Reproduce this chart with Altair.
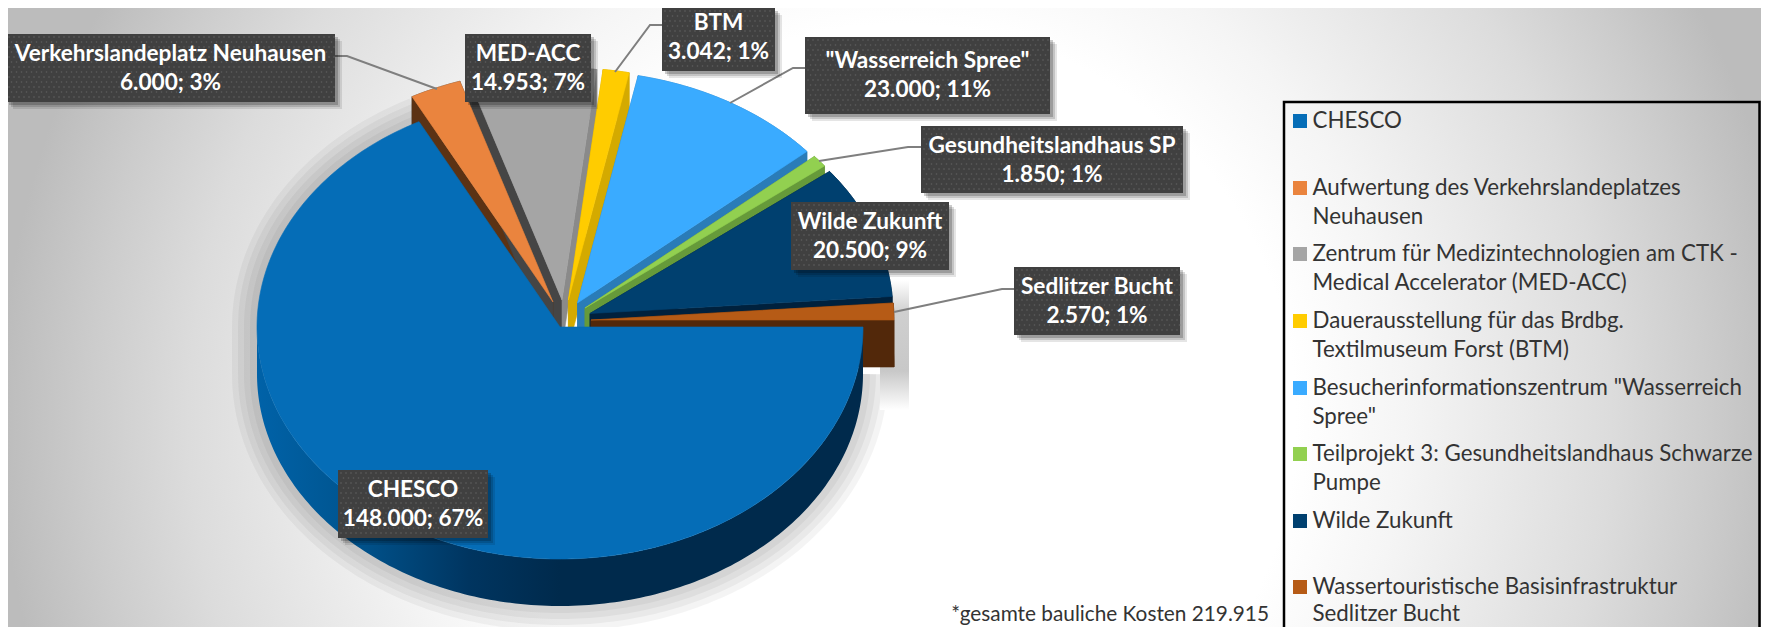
import math
import altair as alt
import pandas as pd

# ---- chart values -------------------------------------------------------
SHORT_NAMES = ["CHESCO", "Verkehrslandeplatz Neuhausen", "MED-ACC", "BTM",
               '"Wasserreich Spree"', "Gesundheitslandhaus SP", "Wilde Zukunft", "Sedlitzer Bucht"]
VALUES = [148000, 6000, 14953, 3042, 23000, 1850, 20500, 2570]
PERCENTS = [67, 3, 7, 1, 11, 1, 9, 1]
LEGEND_LINES = [
    ["CHESCO"],
    ["Aufwertung des Verkehrslandeplatzes", "Neuhausen"],
    ["Zentrum für Medizintechnologien am CTK -", "Medical Accelerator (MED-ACC)"],
    ["Dauerausstellung für das Brdbg.", "Textilmuseum Forst (BTM)"],
    ['Besucherinformationszentrum "Wasserreich', 'Spree"'],
    ["Teilprojekt 3: Gesundheitslandhaus Schwarze", "Pumpe"],
    ["Wilde Zukunft"],
    ["Wassertouristische Basisinfrastruktur", "Sedlitzer Bucht"],
]
FOOTNOTE = "*gesamte bauliche Kosten 219.915"

# ---- styles --------------------------------------------------------------
TOP = ["#056DB7", "#EA843E", "#A5A5A5", "#FFCC00", "#3AABFF", "#92D050", "#00406F", "#B65B16"]
EDGE = ["#5B3214", "#5B3214", "#454545", "#D4AA00", "#2A7CB8", "#669A3A", "#00213D", "#52280A"]
END_CUT = ["#00294A", "#454545", "#8A8A8A", "#D4AA00", "#2A7CB8", "#669A3A", "#00213D", "#52280A"]
EXPLODE_PX = [(0, 0), (-7, -25), (2, -27), (8.4, -27), (17.5, -24), (25, -19), (30, -13.5), (31, -7)]
TEXT_FONT = "Lato"

W, H = 1753, 619
CX, CY, RX, RY, DEPTH = 560, 327, 303, 232, 47


def ux(p):
    return (p - CX) / RX


def uy(p):
    return (CY - p) / RY


X = alt.X("x:Q", axis=None, scale=alt.Scale(domain=[ux(8), ux(8 + W)], nice=False, zero=False))
Y = alt.Y("y:Q", axis=None, scale=alt.Scale(domain=[uy(8 + H), uy(8)], nice=False, zero=False))
D = DEPTH / RY


def polygon(points, fill, stroke=None, sw=0.6, opacity=1.0):
    df = pd.DataFrame([{"x": p[0], "y": p[1], "i": i} for i, p in enumerate(points)])
    return alt.Chart(df).mark_line(
        interpolate="linear-closed", fill=fill, stroke=stroke or fill,
        strokeWidth=sw, opacity=opacity, clip=True,
    ).encode(x=X, y=Y, order="i:Q")


def rect(x0, y0, x1, y1, **kw):
    df = pd.DataFrame([{"x": ux(x0), "x2": ux(x1), "y": uy(y0), "y2": uy(y1)}])
    return alt.Chart(df).mark_rect(clip=True, **kw).encode(x=X, x2="x2:Q", y=Y, y2="y2:Q")


def arc_points(a0, a1, ox=0.0, oy=0.0):
    n = max(2, int(abs(a1 - a0)) + 1)
    out = []
    for k in range(n + 1):
        a = math.radians(a0 + (a1 - a0) * k / n)
        out.append((ox + math.cos(a), oy - math.sin(a)))
    return out


# cumulative clockwise angles from the values (0 deg = east)
total = sum(VALUES)
angles = [0.0]
for v in VALUES:
    angles.append(angles[-1] + 360.0 * v / total)

layers = []

# page background: round gradient centred in the white area
bg = alt.RadialGradient(
    gradient="radial", x1=0.5, y1=0.5, r1=0, x2=0.5, y2=0.5, r2=0.5,
    stops=[alt.GradientStop(offset=0, color="#ffffff"), alt.GradientStop(offset=0.44, color="#ffffff"),
           alt.GradientStop(offset=0.56, color="#f5f5f5"), alt.GradientStop(offset=0.79, color="#dcdcdc"),
           alt.GradientStop(offset=0.9, color="#cccccc"), alt.GradientStop(offset=1, color="#bcbcbc")],
)
layers.append(rect(0, -480, 1800, 1320, fill=bg))

# soft shadow of the pie
outline = arc_points(242.27, 180) + arc_points(180, 0, 0, -D)
for sw in (50, 38, 26, 14):
    df = pd.DataFrame([{"x": p[0], "y": p[1], "i": i} for i, p in enumerate(outline)])
    layers.append(alt.Chart(df).mark_line(stroke="#000000", strokeWidth=sw, opacity=0.045, clip=True,
                                          strokeCap="butt").encode(x=X, y=Y, order="i:Q"))
shadow_grad = alt.LinearGradient(gradient="linear", x1=0, x2=0, y1=0, y2=1,
                                 stops=[alt.GradientStop(offset=0, color="#ffffff"),
                                        alt.GradientStop(offset=0.25, color="#cfcfcf"),
                                        alt.GradientStop(offset=0.7, color="#c8c8c8"),
                                        alt.GradientStop(offset=1, color="#ffffff")])
layers.append(rect(880, 280, 909, 410, fill=shadow_grad))

# geometry of the exploded slices
slices = []
for i in range(len(VALUES)):
    ox, oy = EXPLODE_PX[i][0] / RX, -EXPLODE_PX[i][1] / RY
    slices.append({"ox": ox, "oy": oy, "a0": angles[i], "a1": angles[i + 1]})

# side faces of the back slices first, then their top faces
for i in [2, 1, 3, 4, 5, 6, 7]:
    s = slices[i]
    arc = arc_points(s["a0"], s["a1"], s["ox"], s["oy"])
    apex = (s["ox"], s["oy"])
    low = lambda p: (p[0], p[1] - D)
    layers.append(polygon(arc + [low(p) for p in reversed(arc)], END_CUT[i]))
    layers.append(polygon([apex, arc[0], low(arc[0]), low(apex)], EDGE[i]))
    layers.append(polygon([apex, arc[-1], low(arc[-1]), low(apex)], END_CUT[i]))
for i in [1, 2, 3, 4, 5, 6, 7]:
    s = slices[i]
    arc = arc_points(s["a0"], s["a1"], s["ox"], s["oy"])
    layers.append(polygon([(s["ox"], s["oy"])] + arc, TOP[i]))

# the large slice sits in front of everything else
band = alt.LinearGradient(gradient="linear", x1=0, x2=1, y1=0, y2=0,
                          stops=[alt.GradientStop(offset=0, color="#0062A8"),
                                 alt.GradientStop(offset=0.15, color="#005590"),
                                 alt.GradientStop(offset=0.35, color="#003560"),
                                 alt.GradientStop(offset=0.5, color="#002A4C"),
                                 alt.GradientStop(offset=1, color="#002A4C")])
front = arc_points(0, 180)
layers.append(polygon(front + [(p[0], p[1] - D) for p in reversed(front)], band, stroke="#002A4C", sw=0))
arc0 = arc_points(angles[0], angles[1])
layers.append(polygon([(0, 0)] + arc0, TOP[0]))

# leader lines (page pixels)
LEADERS = [
    [(335, 56), (347, 56), (437, 89)],
    [(662, 25), (650, 25), (615, 72)],
    [(805, 68), (793, 68), (730, 103)],
    [(921, 147), (908, 147), (819, 161)],
    [(1014, 289), (1002, 289), (894, 312)],
]
for pts in LEADERS:
    df = pd.DataFrame([{"x": ux(p[0]), "y": uy(p[1]), "i": i} for i, p in enumerate(pts)])
    layers.append(alt.Chart(df).mark_line(stroke="#7F7F7F", strokeWidth=2).encode(x=X, y=Y, order="i:Q"))

# label boxes: slice index -> x0, y0, x1, y1 in page pixels
BOXES = {
    1: (6, 34, 335, 102),
    2: (465, 34, 591, 102),
    3: (662, 8, 775, 71),
    4: (805, 37, 1050, 114),
    5: (921, 126, 1183, 193),
    6: (791, 202, 949, 270),
    7: (1014, 267, 1180, 335),
    0: (338, 470, 488, 538),
}
TEXT_CENTER_Y = {1: 68, 2: 68, 3: 37, 4: 75, 5: 160, 6: 236, 7: 301, 0: 504}
dots, texts = [], []
for i, (x0, y0, x1, y1) in BOXES.items():
    for off, op in ((7, 0.10), (5, 0.14), (3, 0.2)):
        layers.append(rect(x0 + off, y0 + off, x1 + off, y1 + off, fill="#000000", opacity=op))
    layers.append(rect(x0, y0, x1, y1, fill="#404040"))
    row = 0
    y = y0 + 3.0
    while y < y1:
        x = x0 + (3.0 if row % 2 == 0 else 5.5)
        while x < x1:
            dots.append({"x": ux(x), "y": uy(y)})
            x += 5.0
        y += 5.0
        row += 1
    mid = (x0 + x1) / 2
    cy = TEXT_CENTER_Y[i]
    value_text = f"{VALUES[i]:,}".replace(",", ".") + f"; {PERCENTS[i]}%"
    texts.append({"x": ux(mid), "y": uy(cy - 14.5), "t": SHORT_NAMES[i]})
    texts.append({"x": ux(mid), "y": uy(cy + 14.5), "t": value_text})
layers.append(alt.Chart(pd.DataFrame(dots)).mark_square(size=2, color="#5F5F5F", opacity=0.9).encode(x=X, y=Y))
layers.append(alt.Chart(pd.DataFrame(texts)).mark_text(
    font=TEXT_FONT, fontWeight="bold", fontSize=22.6, color="#FFFFFF", baseline="middle", align="center"
).encode(x=X, y=Y, text="t:N"))

# legend panel
layers.append(rect(1284, 102, 1759.5, 660, fill="transparent", stroke="#000000", strokeWidth=2.5))
LEGEND_Y = [121, 188, 254, 321, 388, 454, 521, 587]
LINE_STEP = [29, 29, 29, 29, 29, 29, 29, 27]
rows = []
for i, lines in enumerate(LEGEND_LINES):
    for j, line in enumerate(lines):
        rows.append({"x": ux(1312.5), "y": uy(LEGEND_Y[i] + j * LINE_STEP[i]), "t": line})
    layers.append(rect(1293, LEGEND_Y[i] - 7, 1307, LEGEND_Y[i] + 7, fill=TOP[i]))
layers.append(alt.Chart(pd.DataFrame(rows)).mark_text(
    font=TEXT_FONT, fontSize=22.3, color="#333333", baseline="middle", align="left"
).encode(x=X, y=Y, text="t:N"))

# footnote
layers.append(alt.Chart(pd.DataFrame([{"x": ux(1269), "y": uy(615), "t": FOOTNOTE}])).mark_text(
    font=TEXT_FONT, fontSize=20.8, color="#333333", baseline="middle", align="right"
).encode(x=X, y=Y, text="t:N"))

chart = alt.layer(*layers).properties(
    width=W, height=H, padding=0, autosize=alt.AutoSizeParams(type="none"), background="#ffffff"
).configure_view(stroke=None)
chart.save("out.html", embed_options={"renderer": "svg", "actions": False})
